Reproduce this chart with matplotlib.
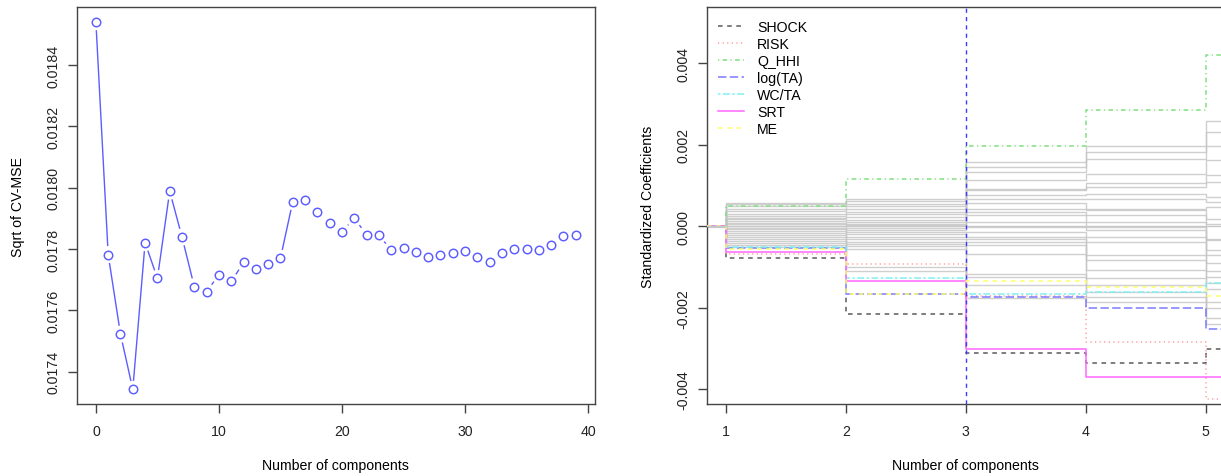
import numpy as np
import matplotlib
matplotlib.use("Agg")
import matplotlib.pyplot as plt
from matplotlib.collections import LineCollection

plt.rcParams["font.family"] = ["Liberation Sans", "DejaVu Sans"]
plt.rcParams["axes.unicode_minus"] = False

# ---------------- data ----------------
# cross-validated RMSE by number of PLS components
cv_rmse = [0.018542, 0.017782, 0.017522, 0.017342, 0.017821, 0.017704,
           0.017989, 0.017839, 0.017677, 0.017661, 0.017716, 0.017694,
           0.017756, 0.017734, 0.017751, 0.017770, 0.017955, 0.017960,
           0.017922, 0.017884, 0.017857, 0.017900, 0.017847, 0.017846,
           0.017796, 0.017802, 0.017791, 0.017773, 0.017779, 0.017787,
           0.017795, 0.017774, 0.017759, 0.017788, 0.017799, 0.017800,
           0.017798, 0.017814, 0.017842, 0.017845]
cv_xticks = [0, 10, 20, 30, 40]
cv_yticks = [0.0174, 0.0176, 0.0178, 0.0180, 0.0182, 0.0184]

# standardized coefficients by number of components
components = [1, 2, 3, 4, 5]
coef_names = ["SHOCK", "RISK", "Q_HHI", "log(TA)", "WC/TA", "SRT", "ME"]
shock = [-0.00077, -0.00214, -0.00312, -0.00336, -0.00301]
risk = [-0.00068, -0.00092, -0.00170, -0.00283, -0.00424]
q_hhi = [0.00049, 0.00117, 0.00198, 0.00286, 0.00421]
log_ta = [-0.00054, -0.00165, -0.00173, -0.00200, -0.00252]
wc_ta = [-0.00050, -0.00126, -0.00165, -0.00162, -0.00140]
srt = [-0.00062, -0.00135, -0.00301, -0.00370, -0.00370]
me = [-0.00056, -0.00165, -0.00134, -0.00150, -0.00171]

# remaining (unlabelled) coefficients, x 1e-3, one list per component count
other_c1 = [0.58, 0.55, 0.50, 0.43, 0.38, 0.31, 0.26, 0.21, 0.17, 0.13, 0.09, 0.05,
            0.01, -0.03, -0.07, -0.12, -0.17, -0.22, -0.27, -0.32, -0.37, -0.42, -0.46, -0.50]
other_c2 = [0.66, 0.62, 0.55, 0.51, 0.43, 0.36, 0.31, 0.23, 0.15, 0.11, 0.05, 0.02,
            -0.04, -0.10, -0.14, -0.18, -0.26, -0.30, -0.38, -0.44, -0.48, -0.55, -0.99, -1.10]
other_c3 = [1.58, 1.45, 1.33, 1.13, 0.92, 0.88, 0.76, 0.68, 0.56, 0.43, 0.35, 0.27,
            0.11, -0.01, -0.14, -0.26, -0.30, -0.38, -0.47, -0.67, -1.16, -1.24, -1.44, -1.77]
other_c4 = [1.97, 1.82, 1.64, 1.29, 1.07, 0.96, 0.80, 0.68, 0.43, 0.39, 0.27, 0.11,
            -0.01, -0.10, -0.26, -0.38, -0.71, -0.83, -1.08, -1.26, -1.44, -1.60, -1.73, -1.85]
other_c5 = [2.58, 2.31, 1.98, 1.62, 1.25, 1.09, 0.72, 0.60, 0.47, 0.19, 0.05, -0.30,
            -0.34, -0.59, -0.71, -0.91, -1.10, -1.24, -1.40, -1.55, -1.85, -2.00, -2.26, -2.40]
coef_yticks = [-0.004, -0.002, 0.000, 0.002, 0.004]
chosen_ncomp = 3

# ---------------- styling ----------------
FS = 10.2
BOX = "#444444"
PT_COL = "#5c5cff"

fig = plt.figure(figsize=(12.21, 4.77), dpi=100)
ax1 = fig.add_axes([0.0628, 0.1509, 0.4245, 0.8323])
ax2 = fig.add_axes([0.5788, 0.1509, 0.4245, 0.8323])


def style_axes(ax):
    for s in ax.spines.values():
        s.set_color(BOX)
        s.set_linewidth(1.0)
    ax.tick_params(axis="both", direction="out", length=6.5, width=1.0,
                   color=BOX, labelsize=FS, labelcolor="#222222")
    ax.tick_params(axis="x", pad=8)
    ax.tick_params(axis="y", pad=5.5)


def rotate_ylabels(ax):
    for lab in ax.get_yticklabels():
        lab.set_rotation(90)
        lab.set_va("center")
        lab.set_ha("right")


# ---------------- left: CV error ----------------
x_cv = np.arange(len(cv_rmse))
y_cv = np.asarray(cv_rmse)
xr = x_cv.max() - x_cv.min()
yr = y_cv.max() - y_cv.min()
ax1.set_xlim(x_cv.min() - 0.04 * xr, x_cv.max() + 0.04 * xr)
ax1.set_ylim(y_cv.min() - 0.04 * yr, y_cv.max() + 0.04 * yr)

# points joined by lines that stop short of each marker
gap = 8.5  # pixels
pts = ax1.transData.transform(np.column_stack([x_cv, y_cv]))
inv = ax1.transData.inverted()
segs = []
for p0, p1 in zip(pts[:-1], pts[1:]):
    d = p1 - p0
    L = np.hypot(*d)
    if L > 2 * gap:
        u = d / L
        a = inv.transform(p0 + gap * u)
        b = inv.transform(p1 - gap * u)
        segs.append([a, b])
ax1.add_collection(LineCollection(segs, colors=PT_COL, linewidths=1.0))
ax1.plot(x_cv, y_cv, "o", ms=6.1, mfc="none", mec=PT_COL, mew=1.05)

ax1.set_xticks(cv_xticks)
ax1.set_yticks(cv_yticks)
ax1.set_yticklabels([f"{v:.4f}" for v in cv_yticks])
style_axes(ax1)
rotate_ylabels(ax1)
ax1.set_xlabel("Number of components", fontsize=FS)
ax1.set_ylabel("Sqrt of CV-MSE", fontsize=FS)
ax1.xaxis.set_label_coords(0.5, -0.1537)
ax1.xaxis.label.set_va("center")
ax1.yaxis.set_label_coords(-0.1133, 0.5)
ax1.yaxis.label.set_va("center")

# ---------------- right: coefficient paths ----------------
comp = np.asarray(components, dtype=float)
x_steps = np.r_[0.0, comp, comp[-1] + 1]

others = np.array([other_c1, other_c2, other_c3, other_c4, other_c5]) * 1e-3
for row in others.T:
    ax2.step(x_steps, np.r_[0.0, row, row[-1]], where="post",
             color="#c4c4c4", lw=1.0, alpha=0.8, zorder=2)

series = [shock, risk, q_hhi, log_ta, wc_ta, srt, me]
colors = ["#5a5a5a", "#ff9a9a", "#80e080", "#7a7aff", "#80f0f0", "#ff66ff", "#ffff66"]
styles = [(0, (3, 3)), (0, (0.8, 2.2)), (0, (0.8, 2.2, 3, 2.2)), (0, (5.5, 2.2)),
          (0, (1.6, 1.6, 4.5, 1.6)), "-", (0, (3, 3))]
handles = []
for name, vals, c, ls in zip(coef_names, series, colors, styles):
    vals = np.asarray(vals)
    h, = ax2.step(x_steps, np.r_[0.0, vals, vals[-1]], where="post",
                  color=c, lw=1.1, linestyle=ls, label=name, zorder=3)
    handles.append(h)

ax2.axhline(0, color="#c8c8c8", lw=1.0, zorder=4)
ax2.axvline(chosen_ncomp, color="#3c3cff", lw=1.0, linestyle=(0, (3, 3)), zorder=5)

ax2.set_xlim(0.84, 5.16)
ax2.set_ylim(-0.00436, 0.00538)
ax2.set_xticks(components)
ax2.set_yticks(coef_yticks)
ax2.set_yticklabels([f"{v:.3f}" for v in coef_yticks])
style_axes(ax2)
rotate_ylabels(ax2)
ax2.set_xlabel("Number of components", fontsize=FS)
ax2.set_ylabel("Standardized Coefficients", fontsize=FS)
ax2.xaxis.set_label_coords(0.5, -0.1537)
ax2.xaxis.label.set_va("center")
ax2.yaxis.set_label_coords(-0.1142, 0.5)
ax2.yaxis.label.set_va("center")

ax2.legend(handles=handles, loc="upper left", bbox_to_anchor=(0.022, 0.968),
           frameon=False, fontsize=FS, handlelength=1.85, handletextpad=0.9,
           labelspacing=0.22, borderaxespad=0, borderpad=0)

fig.savefig("out.png", dpi=100)
